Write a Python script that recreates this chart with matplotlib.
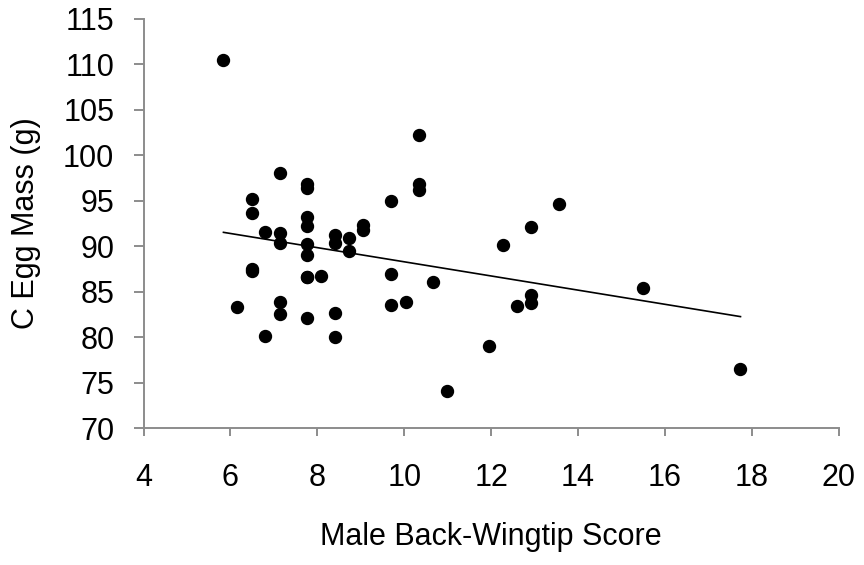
import matplotlib
import matplotlib.pyplot as plt
import numpy as np

matplotlib.use("Agg")

# Male back-wingtip score vs C egg mass
wingtip_score = [
    5.84, 6.16, 6.49, 6.49, 6.49, 6.49, 6.80, 6.80,
    7.13, 7.13, 7.13, 7.13, 7.13,
    7.77, 7.77, 7.77, 7.77, 7.77, 7.77, 7.77, 7.77, 7.77,
    8.09, 8.41, 8.41, 8.41, 8.41, 8.74, 8.74, 9.06, 9.06,
    9.70, 9.70, 9.70, 10.03, 10.35, 10.35, 10.35, 10.67, 10.99,
    11.96, 12.27, 12.60, 12.92, 12.92, 12.92, 13.56, 15.50, 17.74,
]
egg_mass = [
    110.5, 83.3, 95.2, 93.7, 87.5, 87.3, 91.6, 80.1,
    98.1, 91.5, 90.4, 83.9, 82.6,
    96.8, 96.4, 93.2, 92.2, 90.3, 89.0, 86.6, 82.1, 86.6,
    86.7, 91.2, 90.4, 82.7, 80.0, 90.9, 89.5, 92.3, 91.8,
    95.0, 87.0, 83.6, 83.9, 102.2, 96.8, 96.2, 86.1, 74.1,
    79.0, 90.1, 83.4, 92.1, 84.6, 83.8, 94.6, 85.4, 76.5,
]

x_ticks = np.arange(4, 21, 2)
y_ticks = np.arange(70, 116, 5)

plt.rcParams["font.family"] = ["Liberation Sans", "DejaVu Sans"]

fig = plt.figure(figsize=(8.64, 5.65), dpi=100)
ax = fig.add_axes([0.1661, 0.2419, 0.8046, 0.7248])

x = np.array(wingtip_score)
y = np.array(egg_mass)
ax.plot(x, y, "o", color="black", markersize=8.6, zorder=3)

# linear trendline over the data range
slope, intercept = np.polyfit(x, y, 1)
xs = np.array([x.min(), x.max()])
ax.plot(xs, slope * xs + intercept, color="black", linewidth=1.2, zorder=2)

ax.set_xlim(4, 20)
ax.set_ylim(70, 115)
ax.set_xticks(x_ticks)
ax.set_yticks(y_ticks)

for side in ["top", "right"]:
    ax.spines[side].set_visible(False)
for side in ["left", "bottom"]:
    ax.spines[side].set_color("#8c8c8c")
    ax.spines[side].set_linewidth(1.4)

ax.tick_params(axis="x", direction="out", length=6, width=1.4, color="#8c8c8c",
               labelsize=22, pad=19)
ax.tick_params(axis="y", direction="out", length=7, width=1.4, color="#8c8c8c",
               labelsize=22, pad=14)

ax.set_xlabel("Male Back-Wingtip Score", fontsize=22)
ax.set_ylabel("C Egg Mass (g)", fontsize=22)
ax.xaxis.set_label_coords(0.5, -0.228)
ax.yaxis.set_label_coords(-0.147, 0.5)

fig.savefig("out.png", dpi=100)
